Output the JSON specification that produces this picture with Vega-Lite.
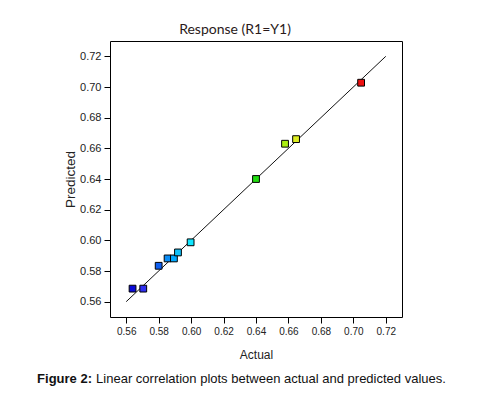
{
  "$schema": "https://vega.github.io/schema/vega-lite/v6.json",
  "padding": {"left": 37, "top": 22, "right": 5, "bottom": 5},
  "background": "white",
  "title": {"text": "Figure 2:", "orient": "bottom", "anchor": "start", "font": "Liberation Sans", "fontSize": 13, "fontWeight": "bold", "color": "#111", "offset": 4, "dy": -17, "dx": -26},
  "vconcat": [
    {
      "title": {"text": "Linear correlation plots between actual and predicted values.", "orient": "bottom", "anchor": "start", "font": "Liberation Sans", "fontSize": 13, "fontWeight": "normal", "color": "#111", "offset": 12, "dx": 33},
      "vconcat": [
        {
          "width": 292,
          "height": 276,
          "title": {"text": "Response (R1=Y1)", "font": "Lato", "fontSize": 14, "fontWeight": "normal", "color": "#2a1a1a", "anchor": "middle", "dx": -21, "offset": 4},
          "layer": [
            {
              "data": {"values": [{"actual": 0.56, "predicted": 0.56}, {"actual": 0.72, "predicted": 0.72}]},
              "mark": {"type": "line", "color": "#111", "strokeWidth": 1},
              "encoding": {
                "x": {"field": "actual", "type": "quantitative"},
                "y": {"field": "predicted", "type": "quantitative"}
              }
            },
            {
              "data": {"values": [
                {"id": "a", "actual": 0.5639, "predicted": 0.5685},
                {"id": "b", "actual": 0.5705, "predicted": 0.5685},
                {"id": "c", "actual": 0.5800, "predicted": 0.5834},
                {"id": "d", "actual": 0.5855, "predicted": 0.5882},
                {"id": "e", "actual": 0.5894, "predicted": 0.5882},
                {"id": "f", "actual": 0.5919, "predicted": 0.5921},
                {"id": "g", "actual": 0.5997, "predicted": 0.5987},
                {"id": "h", "actual": 0.6400, "predicted": 0.6400},
                {"id": "i", "actual": 0.6579, "predicted": 0.6630},
                {"id": "j", "actual": 0.6647, "predicted": 0.6660},
                {"id": "k", "actual": 0.7048, "predicted": 0.7028}
              ]},
              "mark": {"type": "point", "shape": "square", "filled": true, "size": 46, "stroke": "#000", "strokeWidth": 1, "opacity": 1},
              "encoding": {
                "x": {"field": "actual", "type": "quantitative",
                  "scale": {"domain": [0.55, 0.73], "nice": false, "zero": false},
                  "axis": {"title": "Actual", "titleFontSize": 12, "labelFontSize": 10, "tickCount": 12, "values": [0.56, 0.58, 0.6, 0.62, 0.64, 0.66, 0.68, 0.7, 0.72], "format": ".2f", "titlePadding": 13}},
                "y": {"field": "predicted", "type": "quantitative",
                  "scale": {"domain": [0.55, 0.73], "nice": false, "zero": false},
                  "axis": {"title": "Predicted", "titleFontSize": 13.5, "labelFontSize": 11, "tickCount": 12, "values": [0.56, 0.58, 0.6, 0.62, 0.64, 0.66, 0.68, 0.7, 0.72], "format": ".2f", "titlePadding": 2}},
                "color": {"field": "id", "type": "nominal", "legend": null,
                  "scale": {"domain": ["a","b","c","d","e","f","g","h","i","j","k"],
                    "range": ["#0a0ad8", "#3030f0", "#0f5ff0", "#0a8cf5", "#00a8ff", "#10c0f8", "#10e6ff", "#22dd11", "#aaee11", "#dded22", "#ee1111"]}}
              }
            }
          ]
        }
      ]
    }
  ],
  "config": {
    "view": {"stroke": "#000", "strokeWidth": 1},
    "axis": {"domain": false, "grid": false, "tickColor": "#000", "tickSize": 6, "labelFont": "Liberation Sans", "labelColor": "#222", "labelPadding": 3, "labelOverlap": false, "titleFont": "Liberation Sans", "titleFontWeight": "normal", "titleColor": "#222"},
    "concat": {"spacing": 0}
  }
}
